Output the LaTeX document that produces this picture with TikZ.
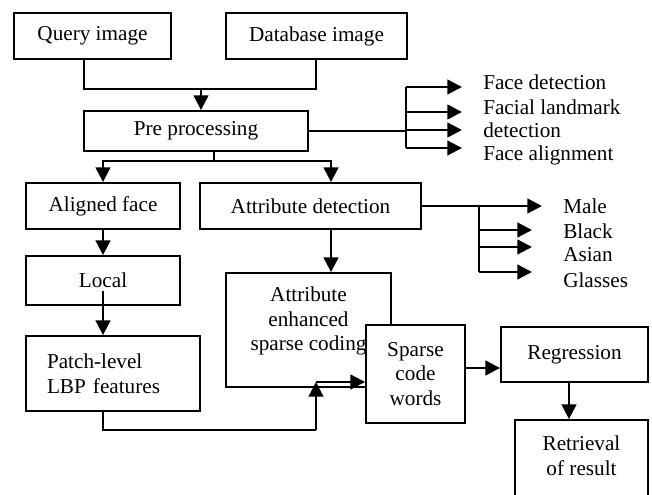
\documentclass[tikz,border=0pt]{standalone}
\usepackage{fontspec}
\setmainfont{Liberation Serif}
\usetikzlibrary{arrows.meta,calc}
\begin{document}
\begin{tikzpicture}[x=0.75pt,y=-0.75pt,
  box/.style={draw, fill=white, line width=1.4pt, inner sep=0pt, font=\fontsize{15.9}{18.4}\selectfont, align=center},
  sz/.style 2 args={minimum width=#1*0.75pt, minimum height=#2*0.75pt},
  txt/.style={inner sep=0pt, font=\fontsize{15.9}{18.4}\selectfont, align=center},
  lbl/.style={inner sep=0pt, anchor=west, font=\fontsize{15.9}{18.4}\selectfont},
  conn/.style={line width=1.7pt},
  arr/.style={line width=1.7pt, -{Triangle[length=11pt,width=11pt]}}]
\clip (0,0) rectangle (652,495);
\fill[white] (0,0) rectangle (652,495);
% boxes
\node[box, sz={157}{46}] (query) at (92.5,36) {Query image};
\node[box, sz={181}{46}] (db) at (316.5,36) {Database image};
\node[box, sz={224}{40}] (pre) at (196,131) {Pre processing};
\node[box, sz={154}{46}] (aligned) at (103,206) {Aligned face};
\node[box, sz={221}{46}] (attr) at (310.5,206) {Attribute detection};
\node[box, sz={154}{49}] (local) at (103,280.5) {Local};
\node[box, sz={174}{75}, text width=99pt, align=left] (patch) at (113,373.5) {Patch-level\\LBP features};
\node[box, sz={165}{114}] (aesc) at (308.5,330) {};
\node[txt] (aesctext) at (308.5,321) {Attribute\\enhanced\\sparse coding};
\node[box, sz={99}{98}] (sparse) at (415.5,374) {Sparse\\code\\words};
\node[box, sz={147}{55}] (reg) at (574.5,354.5) {Regression};
\node[box, sz={133}{95}] (ret) at (581.5,467.5) {};
\node[txt] (rettext) at (581.5,455.5) {Retrieval\\of result};
% labels
\node[lbl] (fd) at (483,82) {Face detection};
\node[lbl] (fl) at (483,107) {Facial landmark};
\node[lbl] (fl2) at (483,130) {detection};
\node[lbl] (fa) at (483,155) {Face alignment};
\node[lbl] (male) at (563,206) {Male};
\node[lbl] (black) at (563,231) {Black};
\node[lbl] (asian) at (563,255) {Asian};
\node[lbl] (glasses) at (563,280) {Glasses};
% connectors
\draw[conn] (query.south -| 84,0) |- (316,89) -- (db.south -| 316,0);
\draw[arr] (201,89) -- (pre.north -| 201,0);
\draw[conn] (pre.south -| 214,0) -- (214,161);
\draw[arr] (214,161) -| (aligned.north);
\draw[arr] (214,161) -| (attr.north -| 331,0);
\draw[conn] (pre.east) -- (406,131);
\draw[conn] (406,87) -- (406,148);
\draw[arr] (406,87) -- (462,87);
\draw[arr] (406,112) -- (462,112);
\draw[arr] (406,130) -- (462,130);
\draw[arr] (406,148) -- (462,148);
\draw[arr] (attr.east) -- (542,206);
\draw[conn] (479,206) -- (479,272);
\draw[arr] (479,230) -- (532,230);
\draw[arr] (479,247) -- (532,247);
\draw[arr] (479,272) -- (532,272);
\draw[arr] (aligned.south) -- (local.north);
\draw[arr] ($(local.south)+(0,-15)$) -- (patch.north -| local.south);
\draw[arr] (attr.south -| 331,0) -- (aesc.north -| 331,0);
\draw[conn] (patch.south -| 103,0) |- (316,430);
\draw[arr] (316,430) -- (316,382);
\draw[arr] (316,382) -- (sparse.west |- 0,382);
\draw[arr] (sparse.east |- 0,368) -- (reg.west |- 0,368);
\draw[arr] (reg.south -| 569,0) -- (ret.north -| 569,0);
\end{tikzpicture}
\end{document}
